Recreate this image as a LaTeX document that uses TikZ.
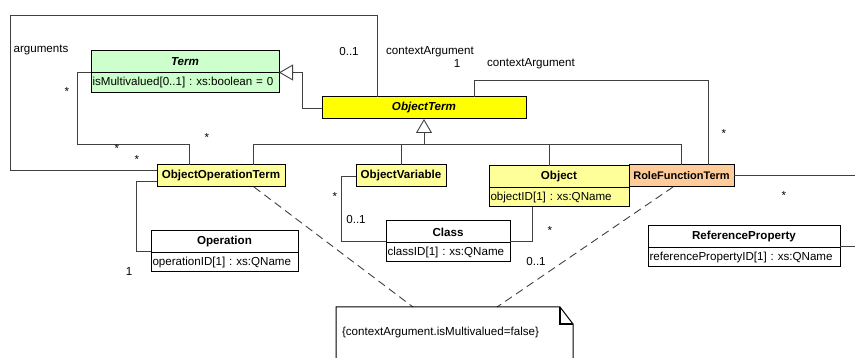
\documentclass[tikz,border=0pt]{standalone}
\usepackage{fontspec}
\setmainfont{Liberation Sans}
\usepackage{tikz}
\usetikzlibrary{arrows.meta}
\usetikzlibrary{positioning}

\definecolor{termgreen}{HTML}{CCFFCC}
\definecolor{objyellow}{HTML}{FFFF00}
\definecolor{subyellow}{HTML}{FFFF99}
\definecolor{roleorange}{HTML}{FFCC99}
\definecolor{linegray}{HTML}{404040}
\newcommand{\umlfont}{\fontsize{11.6}{13.5}\selectfont}
\frenchspacing

\begin{document}
\begin{tikzpicture}[
                x = 1pt, y = -1pt,
                font = \umlfont,
                every node/.style = {inner sep = 0pt, outer sep = 0pt},
                cls/.style = {draw, line width = 1pt, minimum width = #1,
                  minimum height = 22pt, font = \umlfont\bfseries},
                attr/.style = {draw, line width = 1pt, text width = #1,
                  minimum height = 19pt, inner xsep = 1.5pt, align = left},
                assoc/.style = {draw = linegray, line width = 0.9pt},
                inherit/.style = {assoc,
                  -{Triangle[open, length = 14pt, width = 16pt, fill = white]}},
                constraint/.style = {assoc, dash pattern = on 8pt off 5pt},
                mult/.style = {text height = 8pt, text depth = 2pt}
                ]
                \useasboundingbox (0, 0) rectangle (855, 358);

              % Classes
              \node[cls = 188pt, fill = termgreen, font = \umlfont\bfseries\itshape]
                (Term) at (185, 61.5) {Term};
              \node[attr = 185pt, fill = termgreen, minimum height = 20pt,
                below = 0pt of Term] (TermAttr) {isMultivalued[0..1] : xs:boolean = 0};
              \node[cls = 204pt, fill = objyellow, font = \umlfont\bfseries\itshape]
                (ObjectTerm) at (424, 108) {ObjectTerm};
              \node[cls = 128pt, fill = subyellow] (ObjectOperationTerm) at (221, 176)
                {ObjectOperationTerm};
              \node[cls = 90pt, fill = subyellow] (ObjectVariable) at (401, 176)
                {ObjectVariable};
              \node[cls = 140pt, fill = subyellow] (Object) at (559, 177) {Object};
              \node[attr = 137pt, fill = subyellow, below = 0pt of Object] (ObjectAttr)
                {objectID[1] : xs:QName};
              \node[cls = 105pt, fill = roleorange, font = \fontsize{11}{13}\selectfont\bfseries]
                (RoleFunctionTerm) at (681.5, 176) {RoleFunctionTerm};
              \node[cls = 147pt] (Operation) at (224.5, 242) {Operation};
              \node[attr = 144pt, below = 0pt of Operation] (OperationAttr)
                {operationID[1] : xs:QName};
              \node[cls = 124pt] (Class) at (448, 232) {Class};
              \node[attr = 121pt, below = 0pt of Class] (ClassAttr) {classID[1] : xs:QName};
              \node[cls = 192pt] (ReferenceProperty) at (744, 237) {ReferenceProperty};
              \node[attr = 189pt, below = 0pt of ReferenceProperty] (ReferencePropertyAttr)
                {referencePropertyID[1] : xs:QName};

              % Generalizations
              \draw[inherit] (ObjectTerm.west) -- (302, 108) |- (Term.south east);
              \coordinate (Bus) at (424, 144);
              \draw[inherit] (Bus) -- (ObjectTerm.south);
              \draw[assoc] ([xshift = 32pt]ObjectOperationTerm.north) |- (Bus);
              \draw[assoc] (ObjectVariable.north) |- (Bus);
              \draw[assoc] ([xshift = -10pt]Object.north) |- (Bus);
              \draw[assoc] (RoleFunctionTerm.north) |- (Bus);

              % Associations
              \draw[assoc] ([xshift = 50pt]ObjectTerm.north) -- ++(0, -17)
                -| ([xshift = 26.5pt]RoleFunctionTerm.north);
              \draw[assoc] ([xshift = -47pt]ObjectTerm.north) |- (10, 15)
                |- ([yshift = 6pt]ObjectOperationTerm.west);
              \draw[assoc] ([yshift = 0.5pt]Term.south west) -| (77, 144)
                -| ([xshift = -32pt]ObjectOperationTerm.north);
              \draw[assoc] ([yshift = -5pt]ObjectOperationTerm.west) -| (136, 251)
                -- ([yshift = -9pt]Operation.west);
              \draw[assoc] (ObjectVariable.west) -| (341, 241) -- ([yshift = -9pt]Class.west);
              \draw[assoc] ([xshift = -27pt]ObjectAttr.south) |- ([yshift = -9pt]Class.east);
              \coordinate (RoleOut) at (855, 175);
              \coordinate (RefOut) at (855, 246);
              \draw[assoc] ([yshift = 1pt]RoleFunctionTerm.east) -- (RoleOut);
              \draw[assoc] ([yshift = -9pt]ReferenceProperty.east) -- (RefOut);

              % Constraint note
              \coordinate (NoteLeft) at (413, 307);
              \coordinate (NoteRight) at (497, 307);
              \draw[constraint] ([xshift = 33pt]ObjectOperationTerm.south) -- (NoteLeft);
              \draw[constraint] ([xshift = -8.5pt]RoleFunctionTerm.south) -- (NoteRight);
              \draw[line width = 1pt] (336, 358) -- (336, 307) -- (560, 307) -- (573, 324)
                -- (573, 358);
              \draw[line width = 1.5pt] (560, 307) -- (560, 324) -- (573, 324);
              \node[anchor = west] (Note) at (342, 333)
                {\{contextArgument.isMultivalued=false\}};

              % Labels
              \begin{scope}[nodes = {mult}]
                \node (ArgRole)      at (41, 50)   {arguments};
                \node (ArgMultA)     at (67, 92.5) {*};
                \node (ArgMultB)     at (117, 149.5) {*};
                \node (CtxMultA)     at (137, 160.5) {*};
                \node (GenMult)      at (207, 138.5) {*};
                \node (CtxMultB)     at (349, 53)  {0..1};
                \node (CtxRoleA)     at (430, 52)  {contextArgument};
                \node (CtxMultC)     at (457, 65)  {1};
                \node (CtxRoleB)     at (531, 64)  {contextArgument};
                \node (CtxMultD)     at (724, 134.5) {*};
                \node (VarMult)      at (335, 197.5) {*};
                \node (VarClassMult) at (356, 221) {0..1};
                \node (ObjMult)      at (550, 231.5) {*};
                \node (ObjClassMult) at (536, 263) {0..1};
                \node (OpMult)       at (129, 273) {1};
                \node (RoleMult)     at (784, 196.5) {*};
              \end{scope}
            \end{tikzpicture}
\end{document}
